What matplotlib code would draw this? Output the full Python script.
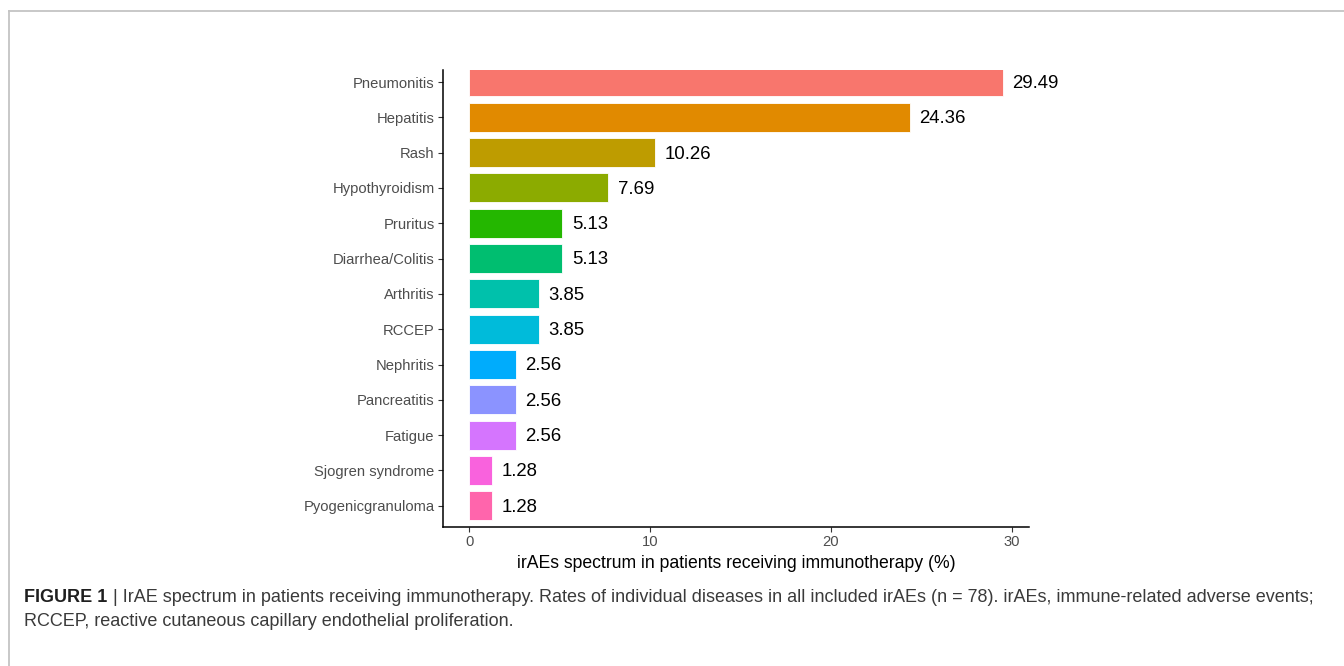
import matplotlib
matplotlib.use('Agg')
import matplotlib.pyplot as plt
from matplotlib.lines import Line2D

plt.rcParams['font.family'] = ['Liberation Sans', 'DejaVu Sans']

# irAE categories and rates (%)
categories = ['Pneumonitis', 'Hepatitis', 'Rash', 'Hypothyroidism', 'Pruritus',
              'Diarrhea/Colitis', 'Arthritis', 'RCCEP', 'Nephritis', 'Pancreatitis',
              'Fatigue', 'Sjogren syndrome', 'Pyogenicgranuloma']
rates = [29.49, 24.36, 10.26, 7.69, 5.13, 5.13, 3.85, 3.85, 2.56, 2.56, 2.56, 1.28, 1.28]
colors = ['#F8766D', '#E18A00', '#BE9C00', '#8CAB00', '#24B700', '#00BE70', '#00C1AB',
          '#00BBDA', '#00ACFC', '#8B93FF', '#D575FE', '#F962DD', '#FF65AC']
xticks = [0, 10, 20, 30]

fig = plt.figure(figsize=(13.44, 6.66), dpi=100)
fig.patch.set_facecolor('white')

# page frame (top and left rules)
fig.add_artist(Line2D([9 / 1344, 1], [1 - 11 / 666] * 2, color='#C4C4C4', lw=1.3))
fig.add_artist(Line2D([9 / 1344] * 2, [0, 1 - 11 / 666], color='#C4C4C4', lw=1.3))

ax = fig.add_axes([443 / 1344, 1 - 527 / 666, (1029 - 443) / 1344, (527 - 70) / 666])

pos = list(range(len(categories)))
ax.barh(pos, rates, height=0.82, color=colors, edgecolor='white', linewidth=0.6)
for p, v in zip(pos, rates):
    ax.annotate(f'{v:.2f}', (v, p), xytext=(7, -1), textcoords='offset points',
                ha='left', va='center', fontsize=13.4, color='black')

ax.set_yticks(pos)
ax.set_yticklabels(categories)
ax.set_ylim(12.6, -0.34)
ax.set_xlim(-1.45, 30.95)
ax.set_xticks(xticks)

for s in ['top', 'right']:
    ax.spines[s].set_visible(False)
for s in ['left', 'bottom']:
    ax.spines[s].set_linewidth(1.1)
    ax.spines[s].set_color('black')
ax.tick_params(axis='both', length=3.5, width=0.8, color='#333333',
               labelcolor='#4D4D4D', labelsize=10.6, pad=2.5)

ax.set_xlabel('irAEs spectrum in patients receiving immunotherapy (%)',
              fontsize=12.7, color='black', labelpad=4)

# caption
fig.canvas.draw()
r = fig.canvas.get_renderer()
t1 = fig.text(24 / 1344, 1 - 598 / 666, 'FIGURE 1', fontsize=13.0, fontweight='bold',
              color='#1F1F1F', va='center', ha='left')
bb = t1.get_window_extent(renderer=r)
fig.text((bb.x1 + 1) / 1344, 1 - 598 / 666,
         ' | IrAE spectrum in patients receiving immunotherapy. Rates of individual diseases '
         'in all included irAEs (n = 78). irAEs, immune-related adverse events;',
         fontsize=13.0, color='#3A3A3A', va='center', ha='left')
fig.text(24 / 1344, 1 - 622 / 666,
         'RCCEP, reactive cutaneous capillary endothelial proliferation.',
         fontsize=13.0, color='#3A3A3A', va='center', ha='left')

fig.savefig('out.png', dpi=100, facecolor='white')
